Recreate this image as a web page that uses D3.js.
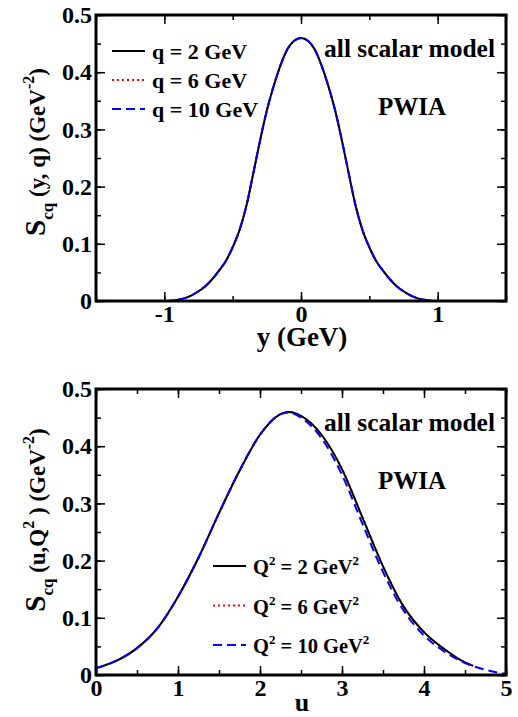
<!DOCTYPE html>
<html lang="en">
<head>
    <meta charset="UTF-8">
    <title>Scaling function, all scalar model</title>
    <script src="https://d3js.org/d3.v7.min.js"></script>
    <style>
        body { margin: 0; background: #fff; }
        svg text, svg .tick text {
            font-family: "Liberation Serif", "DejaVu Serif", "Times New Roman", serif;
            font-weight: bold;
            fill: #000;
        }
        .tick text { font-size: 24px; }
        .frame { fill: none; stroke: #000; stroke-width: 3; }
        .tick line { stroke: #000; stroke-width: 1.5; }
        .curve { fill: none; stroke-width: 2; }
    </style>
</head>
<body>
    <div id="chart"></div>
    <script>
        // top panel: S(y, q) vs y
        const yGeV = [-1.00, -0.95, -0.90, -0.85, -0.80, -0.75, -0.70, -0.65, -0.60, -0.55, -0.50,
                      -0.45, -0.40, -0.35, -0.30, -0.25, -0.20, -0.15, -0.10, -0.05, 0.00,
                      0.05, 0.10, 0.15, 0.20, 0.25, 0.30, 0.35, 0.40, 0.45, 0.50,
                      0.55, 0.60, 0.65, 0.70, 0.75, 0.80, 0.85, 0.90, 0.95, 1.00];
        const sYq2 = [0, 0.0005, 0.002, 0.005, 0.010, 0.017, 0.026, 0.038, 0.053, 0.070, 0.094,
                      0.124, 0.166, 0.222, 0.280, 0.333, 0.376, 0.412, 0.440, 0.455, 0.460,
                      0.455, 0.440, 0.412, 0.376, 0.333, 0.280, 0.222, 0.166, 0.124, 0.094,
                      0.070, 0.053, 0.038, 0.026, 0.017, 0.010, 0.005, 0.002, 0.0005, 0];
        const sYq6 = sYq2.slice();
        const sYq10 = sYq2.slice();

        // bottom panel: S(u, Q^2) vs u
        const uQ2 = [0, 0.25, 0.5, 0.75, 1.0, 1.25, 1.5, 1.75, 2.0, 2.25, 2.35, 2.5, 2.75,
                     3.0, 3.25, 3.5, 3.75, 4.0, 4.25, 4.5, 4.6];
        const sUQ2 = [0.012, 0.025, 0.047, 0.082, 0.137, 0.205, 0.283, 0.357, 0.420, 0.456, 0.460, 0.453, 0.420,
                      0.360, 0.275, 0.190, 0.120, 0.075, 0.045, 0.022, 0.016];
        const uQ6 = uQ2.slice();
        const sUQ6 = sUQ2.slice();
        const uQ10 = [0, 0.25, 0.5, 0.75, 1.0, 1.25, 1.5, 1.75, 2.0, 2.25, 2.35, 2.5, 2.75,
                      3.0, 3.25, 3.5, 3.75, 4.0, 4.25, 4.5, 4.75, 5.0];
        const sUQ10 = [0.012, 0.025, 0.047, 0.082, 0.137, 0.205, 0.283, 0.357, 0.420, 0.456, 0.459, 0.450, 0.414,
                       0.350, 0.264, 0.180, 0.113, 0.069, 0.041, 0.021, 0.009, 0.002];

        const yTicks = [0, 0.1, 0.2, 0.3, 0.4, 0.5];
        const topXTicks = [-1, 0, 1];
        const botXTicks = [0, 1, 2, 3, 4, 5];

        const styles = [
            { color: "#000", dash: null },
            { color: "#ff0000", dash: "2,3" },
            { color: "#0000ff", dash: "9,5" }
        ];
        const drawOrder = [1, 0, 2];

        const svg = d3.select("#chart")
            .append("svg")
            .attr("width", 518)
            .attr("height", 717);

        function panel(opt) {
            const x = d3.scaleLinear().domain(opt.xDomain).range([96, 506]);
            const y = d3.scaleLinear().domain([0, 0.5]).range([opt.bottom, opt.top]);
            const g = svg.append("g");
            const h = opt.bottom - opt.top;

            // minor ticks, all four sides
            const xMinor = d3.range(opt.xDomain[0], opt.xDomain[1] + 1e-9, 0.5);
            const yMinor = d3.range(0, 0.5001, 0.05);
            g.append("g").attr("transform", `translate(0,${opt.bottom})`)
                .call(d3.axisBottom(x).tickValues(xMinor).tickSize(-5).tickFormat(""));
            g.append("g").attr("transform", `translate(0,${opt.top})`)
                .call(d3.axisTop(x).tickValues(xMinor).tickSize(-5).tickFormat(""));
            g.append("g").attr("transform", "translate(96,0)")
                .call(d3.axisLeft(y).tickValues(yMinor).tickSize(-5).tickFormat(""));
            g.append("g").attr("transform", "translate(506,0)")
                .call(d3.axisRight(y).tickValues(yMinor).tickSize(-5).tickFormat(""));

            // major ticks
            g.append("g").attr("transform", `translate(0,${opt.bottom})`)
                .call(d3.axisBottom(x).tickValues(opt.xTicks).tickSize(-9).tickPadding(4)
                    .tickFormat(d => String(d)));
            g.append("g").attr("transform", `translate(0,${opt.top})`)
                .call(d3.axisTop(x).tickValues(opt.xTicks).tickSize(-9).tickFormat(""));
            g.append("g").attr("transform", "translate(96,0)")
                .call(d3.axisLeft(y).tickValues(yTicks).tickSize(-9).tickPadding(4)
                    .tickFormat(d => d === 0 ? "0" : d3.format(".1f")(d)));
            g.append("g").attr("transform", "translate(506,0)")
                .call(d3.axisRight(y).tickValues(yTicks).tickSize(-9).tickFormat(""));

            g.selectAll(".domain").remove();
            g.selectAll("g").attr("font-family", null).attr("font-size", null);

            const line = d3.line()
                .x(d => x(d[0]))
                .y(d => y(d[1]))
                .curve(d3.curveMonotoneX);

            drawOrder.forEach(i => {
                const s = opt.series[i];
                g.append("path")
                    .datum(d3.zip(s.xs, s.ys))
                    .attr("class", "curve")
                    .attr("stroke", styles[i].color)
                    .attr("stroke-dasharray", styles[i].dash)
                    .attr("d", line);
            });

            g.append("rect")
                .attr("class", "frame")
                .attr("x", 96).attr("y", opt.top)
                .attr("width", 410).attr("height", h);

            // legend
            opt.series.forEach((s, i) => {
                const ly = opt.legY + i * opt.legStep;
                g.append("line")
                    .attr("x1", opt.legX).attr("x2", opt.legX + 33)
                    .attr("y1", ly).attr("y2", ly)
                    .attr("stroke", styles[i].color)
                    .attr("stroke-width", 2)
                    .attr("stroke-dasharray", styles[i].dash);
                const t = g.append("text")
                    .attr("x", opt.legX + 40).attr("y", ly + 8)
                    .attr("font-size", opt.legFont);
                s.label(t);
            });

            g.append("text").attr("x", 495).attr("y", opt.top + 42)
                .attr("text-anchor", "end").attr("font-size", 25.5)
                .text("all scalar model");
            g.append("text").attr("x", 412).attr("y", opt.top + 100)
                .attr("text-anchor", "middle").attr("font-size", 25)
                .text("PWIA");

            return { x, y, g };
        }

        panel({
            xDomain: [-1.5, 1.5], xTicks: topXTicks, top: 15, bottom: 301,
            legX: 112, legY: 51, legStep: 29, legFont: 22,
            series: [
                { xs: yGeV, ys: sYq2, label: t => t.text("q = 2 GeV") },
                { xs: yGeV, ys: sYq6, label: t => t.text("q = 6 GeV") },
                { xs: yGeV, ys: sYq10, label: t => t.text("q = 10 GeV") }
            ]
        });

        function q2Label(val) {
            return t => {
                t.append("tspan").text("Q");
                t.append("tspan").attr("dy", -9).attr("font-size", 13).text("2");
                t.append("tspan").attr("dy", 9).text(` = ${val} GeV`);
                t.append("tspan").attr("dy", -9).attr("font-size", 13).text("2");
            };
        }

        panel({
            xDomain: [0, 5], xTicks: botXTicks, top: 389, bottom: 675,
            legX: 213, legY: 566, legStep: 39.5, legFont: 20.5,
            series: [
                { xs: uQ2, ys: sUQ2, label: q2Label(2) },
                { xs: uQ6, ys: sUQ6, label: q2Label(6) },
                { xs: uQ10, ys: sUQ10, label: q2Label(10) }
            ]
        });

        // axis titles
        svg.append("text").attr("x", 302).attr("y", 346)
            .attr("text-anchor", "middle").attr("font-size", 27).text("y (GeV)");
        svg.append("text").attr("x", 302).attr("y", 711)
            .attr("text-anchor", "middle").attr("font-size", 26).text("u");

        // rotated y titles; parts: [text, shift, size]
        function yTitle(cy, parts) {
            const t = svg.append("text")
                .attr("transform", `translate(45,${cy}) rotate(-90)`)
                .attr("text-anchor", "middle")
                .attr("font-size", 23);
            let cur = 0;
            parts.forEach(([str, shift, size]) => {
                t.append("tspan")
                    .attr("dy", shift - cur)
                    .attr("font-size", size)
                    .text(str);
                cur = shift;
            });
            return t;
        }
        yTitle(152, [["S", 0, 29], ["cq", 8, 17], [" (y, q) (GeV", 0, 23], ["-2", -11, 16], [")", 0, 23]]);
        yTitle(520, [["S", 0, 29], ["cq", 8, 17], [" (u,Q", 0, 23], ["2", -11, 16],
                     [" ) (GeV", 0, 23], ["-2", -11, 16], [")", 0, 23]]);
    </script>
</body>
</html>
